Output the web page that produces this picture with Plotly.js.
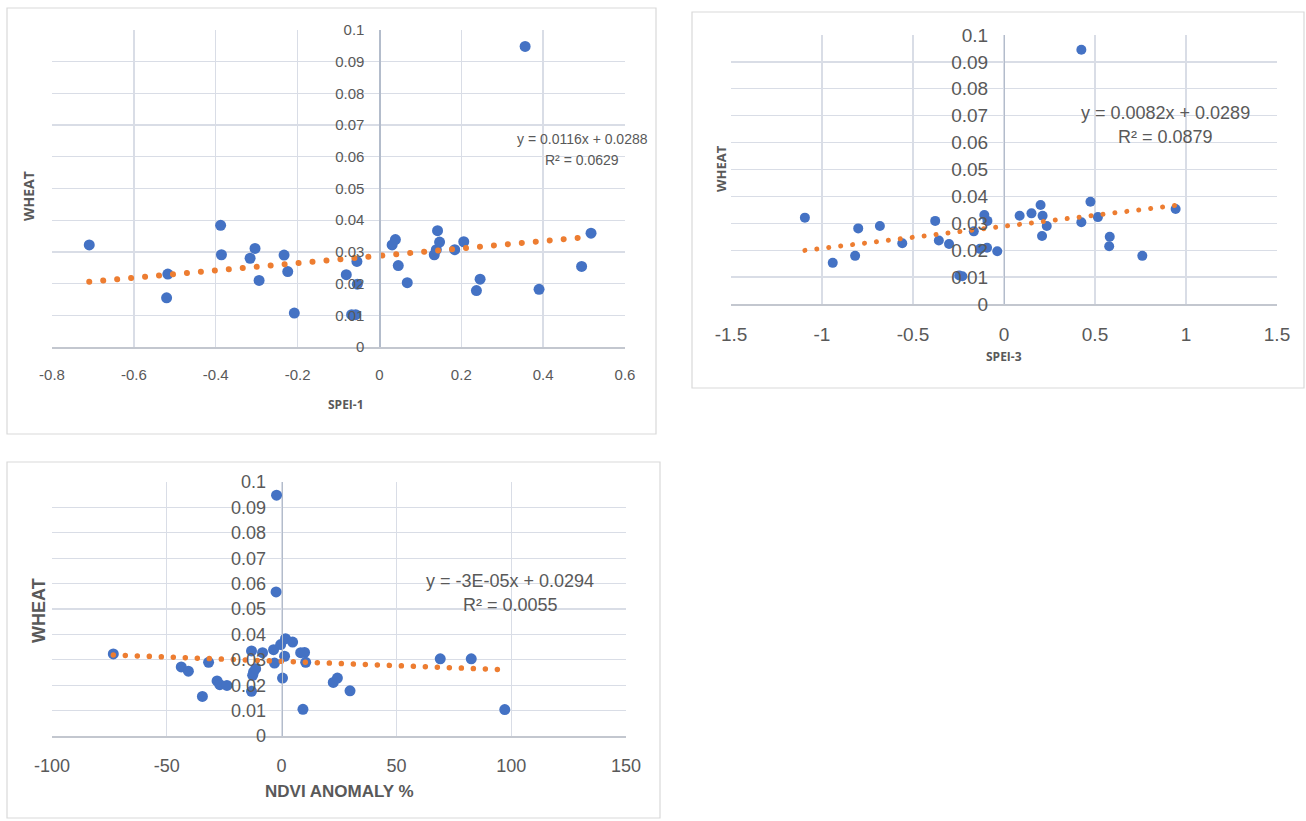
<!DOCTYPE html>
<html>
<head>
<meta charset="utf-8">
<script src="https://cdn.plot.ly/plotly-3.0.1.min.js"></script>
<style>html,body{margin:0;padding:0;background:#fff;}#chart{width:1306px;height:821px;}</style>
</head>
<body>
<div id="chart"></div>
<script>
// ---------- DATA ----------
const spei1X = [-0.709,-0.517,-0.520,-0.388,-0.386,-0.316,-0.304,-0.294,-0.233,-0.224,-0.208,-0.081,-0.055,-0.054,-0.068,-0.058,0.031,0.039,0.046,0.068,0.134,0.139,0.142,0.147,0.184,0.206,0.237,0.246,0.356,0.390,0.494,0.517];
const spei1Y = [0.0322,0.0230,0.0155,0.0384,0.0291,0.0280,0.0311,0.0210,0.0290,0.0238,0.0107,0.0228,0.0270,0.0198,0.0102,0.0102,0.0322,0.0339,0.0257,0.0203,0.0291,0.0307,0.0367,0.0331,0.0307,0.0332,0.0178,0.0214,0.0948,0.0182,0.0254,0.0359];

const spei3X = [-1.094,-0.941,-0.818,-0.801,-0.682,-0.559,-0.378,-0.358,-0.302,-0.246,-0.229,-0.166,-0.132,-0.108,-0.091,-0.093,-0.037,0.086,0.151,0.201,0.212,0.209,0.235,0.425,0.425,0.475,0.516,0.581,0.578,0.760,0.943];
const spei3Y = [0.0321,0.0153,0.0179,0.0281,0.0290,0.0226,0.0309,0.0236,0.0223,0.0106,0.0103,0.0270,0.0205,0.0331,0.0309,0.0209,0.0196,0.0328,0.0337,0.0368,0.0328,0.0253,0.0290,0.0945,0.0304,0.0380,0.0323,0.0250,0.0215,0.0179,0.0353];

const ndviX = [-73.3,-43.7,-40.6,-34.5,-31.8,-28.1,-26.9,-23.8,-13.1,-13.1,-12.6,-12.2,-11.3,-8.3,-3.5,-3.1,-2.4,-2.2,-0.4,0.4,1.3,1.7,4.8,8.3,9.3,10.0,10.5,22.5,24.3,29.8,69.1,82.6,97.2];
const ndviY = [0.0323,0.0272,0.0255,0.0156,0.0290,0.0217,0.0202,0.0199,0.0335,0.0176,0.0239,0.0252,0.0265,0.0328,0.0340,0.0287,0.0567,0.0948,0.0360,0.0228,0.0314,0.0383,0.0370,0.0328,0.0105,0.0329,0.0290,0.0211,0.0228,0.0178,0.0304,0.0304,0.0104];

const trendSlope = [0.0116, 0.0082, -0.000034];
const trendIntercept = [0.0288, 0.0289, 0.0294];
const equationText = ["y = 0.0116x + 0.0288", "y = 0.0082x + 0.0289", "y = -3E-05x + 0.0294"];
const r2Text = ["R² = 0.0629", "R² = 0.0879", "R² = 0.0055"];

const xTicks1 = [-0.8,-0.6,-0.4,-0.2,0,0.2,0.4,0.6];
const xTickText1 = ["-0.8","-0.6","-0.4","-0.2","0","0.2","0.4","0.6"];
const xTicks2 = [-1.5,-1,-0.5,0,0.5,1,1.5];
const xTickText2 = ["-1.5","-1","-0.5","0","0.5","1","1.5"];
const xTicks3 = [-100,-50,0,50,100,150];
const xTickText3 = ["-100","-50","0","50","100","150"];
const yTicks = [0,0.01,0.02,0.03,0.04,0.05,0.06,0.07,0.08,0.09,0.1];
const yTickText = ["0","0.01","0.02","0.03","0.04","0.05","0.06","0.07","0.08","0.09","0.1"];

const xTitles = ["SPEI-1", "SPEI-3", "NDVI ANOMALY %"];
const yTitle = "WHEAT";

// ---------- STYLE / LAYOUT ----------
const W = 1306, H = 821;
const px = v => v / W;
const py = v => 1 - v / H;
const BLUE = '#4472C4', ORANGE = '#ED7D31', GRID = '#d9dde6', TICKC = '#595959';

const panels = [
  {x0:52, x1:625, y0:347, y1:30, xr:[-0.8,0.6], xt:xTicks1, xtt:xTickText1, font:'Liberation Sans', fs:15, ms:11, lw:6, gap:14,
   frame:[7,8,656,434], xtitle:[346,404,12,'Open Sans',true], ytitle:[29,196,14,'Open Sans'], eq:[582,139,160,14,'Liberation Sans']},
  {x0:731, x1:1277, y0:304, y1:35, xr:[-1.5,1.5], xt:xTicks2, xtt:xTickText2, font:'Liberation Sans', fs:19, ms:10, lw:5, gap:12,
   frame:[692,12,1304,388], xtitle:[1004,356,12,'Open Sans',true], ytitle:[721,169,13,'Open Sans'], eq:[1165,113,137,18,'Liberation Sans']},
  {x0:52, x1:626, y0:736, y1:482, xr:[-100,150], xt:xTicks3, xtt:xTickText3, font:'Liberation Sans', fs:18, ms:11, lw:5.5, gap:12,
   frame:[7,462,660,818], xtitle:[339,791,17,'Liberation Sans',true], ytitle:[39,611,18,'Liberation Sans'], eq:[510,581,605,18,'Liberation Sans']}
];
const xs = [spei1X, spei3X, ndviX];
const ys = [spei1Y, spei3Y, ndviY];

const data = [];
const layout = {
  width: W, height: H, margin: {l:0, r:0, t:0, b:0},
  paper_bgcolor: '#ffffff', plot_bgcolor: '#ffffff', showlegend: false,
  shapes: [], annotations: []
};

panels.forEach((p, i) => {
  const n = i === 0 ? '' : String(i + 1);
  const xa = 'x' + n, ya = 'y' + n;
  const xDom = [px(p.x0), px(p.x1)];
  const yDom = [py(p.y0), py(p.y1)];
  const zeroFrac = xDom[0] + (0 - p.xr[0]) / (p.xr[1] - p.xr[0]) * (xDom[1] - xDom[0]);
  layout['xaxis' + n] = {
    domain: xDom, range: p.xr, anchor: ya, tickmode: 'array', tickvals: p.xt, ticktext: p.xtt,
    showgrid: true, gridcolor: GRID, gridwidth: 1.3, zeroline: false,
    showline: true, linecolor: '#c3c7cf', linewidth: 1.5, ticks: '', ticklabelstandoff: 13,
    tickfont: {family: p.font, size: p.fs, color: TICKC}, fixedrange: true
  };
  layout['yaxis' + n] = {
    domain: yDom, range: [0, 0.1], anchor: 'free', position: zeroFrac,
    tickmode: 'array', tickvals: yTicks, ticktext: yTickText,
    showgrid: true, gridcolor: GRID, gridwidth: 1.3, zeroline: false,
    showline: true, linecolor: '#b3bccb', linewidth: 1.2, ticks: '', ticklabelstandoff: 12,
    tickfont: {family: p.font, size: p.fs, color: TICKC}, fixedrange: true
  };
  data.push({
    type: 'scatter', mode: 'markers', x: xs[i], y: ys[i], xaxis: xa, yaxis: ya,
    marker: {color: BLUE, size: p.ms, line: {width: 0}}, hoverinfo: 'skip'
  });
  const xmin = Math.min(...xs[i]), xmax = Math.max(...xs[i]);
  data.push({
    type: 'scatter', mode: 'lines', x: [xmin, xmax],
    y: [trendSlope[i] * xmin + trendIntercept[i], trendSlope[i] * xmax + trendIntercept[i]],
    xaxis: xa, yaxis: ya, line: {color: ORANGE, width: p.lw, dash: p.lw + 'px,' + (p.gap - p.lw) + 'px'},
    hoverinfo: 'skip'
  });
  const f = p.frame;
  layout.shapes.push({type: 'rect', xref: 'paper', yref: 'paper', x0: px(f[0]), x1: px(f[2]), y0: py(f[3]), y1: py(f[1]),
    line: {color: '#d9d9d9', width: 1.2}, fillcolor: 'rgba(0,0,0,0)', layer: 'below'});
  layout.annotations.push({xref: 'paper', yref: 'paper', x: px(p.xtitle[0]), y: py(p.xtitle[1]), xanchor: 'center', yanchor: 'middle',
    text: '<b>' + xTitles[i] + '</b>', showarrow: false, font: {family: p.xtitle[3], size: p.xtitle[2], color: TICKC}});
  layout.annotations.push({xref: 'paper', yref: 'paper', x: px(p.ytitle[0]), y: py(p.ytitle[1]), xanchor: 'center', yanchor: 'middle',
    text: '<b>' + yTitle + '</b>', textangle: -90, showarrow: false, font: {family: p.ytitle[3], size: p.ytitle[2], color: TICKC}});
  layout.annotations.push({xref: 'paper', yref: 'paper', x: px(p.eq[0]), y: py(p.eq[1]), xanchor: 'center', yanchor: 'middle',
    text: equationText[i], showarrow: false, font: {family: p.eq[4], size: p.eq[3], color: TICKC}});
  layout.annotations.push({xref: 'paper', yref: 'paper', x: px(p.eq[0]), y: py(p.eq[2]), xanchor: 'center', yanchor: 'middle',
    text: r2Text[i], showarrow: false, font: {family: p.eq[4], size: p.eq[3], color: TICKC}});
});

Plotly.newPlot('chart', data, layout, {staticPlot: true, displayModeBar: false}).then(gd => {
  gd.querySelectorAll('.scatterlayer .js-line').forEach(path => {
    const da = (path.style.strokeDasharray || '').split(/[ ,]+/).map(parseFloat).filter(v => !isNaN(v));
    if (da.length >= 2) {
      path.style.strokeLinecap = 'round';
      path.style.strokeDasharray = '0.01px,' + (da[0] + da[1]) + 'px';
    }
  });
});
</script>
</body>
</html>
